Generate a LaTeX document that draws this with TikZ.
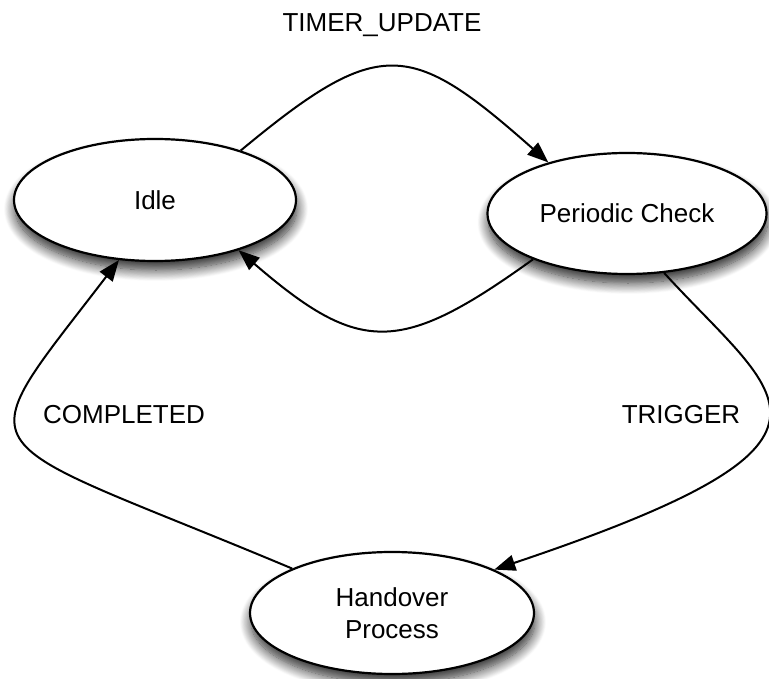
\documentclass[tikz,border=0pt]{standalone}
\usepackage{fontspec}
\setmainfont{Liberation Sans}
\usetikzlibrary{shapes.geometric,shadows.blur,arrows.meta}

\begin{document}
\begin{tikzpicture}[x=1pt,y=-1pt,
  state/.style={ellipse, draw, line width=2.2pt, fill=white, inner sep=0pt,
    font=\fontsize{26}{32}\selectfont, align=center,
    blur shadow={shadow xshift=1pt, shadow yshift=-9pt,
      shadow blur radius=11pt, shadow blur steps=14, shadow opacity=85}},
  trans/.style={line width=2pt, -{Triangle[length=21pt,width=16pt]}},
  lbl/.style={font=\fontsize{26}{32}\selectfont, inner sep=0pt, anchor=base}]
\useasboundingbox (0,0) rectangle (769,679);

% states
\node[state, minimum width=282pt, minimum height=122pt] (idle) at (155,200) {Idle};
\node[state, minimum width=279pt, minimum height=121pt] (check) at (627,213.5) {Periodic Check};
\node[state, minimum width=284pt, minimum height=122pt] (hand) at (392,613) {Handover\\Process};

% transitions
\draw[trans] (idle.30) .. controls (380,35) and (410,40) .. (check.147);
\draw[trans] (check.206) .. controls (400,355) and (360,355) .. (idle.329);
\draw[trans] (check.-58) .. controls (780,400) and (880,440) .. (hand.23);
\draw[trans] (hand.156) .. controls (-38,430) and (-38,465) .. (idle.239);

% transition labels
\node[lbl] (tu) at (382,32) {TIMER\_UPDATE};
\node[lbl] (co) at (124,423) {COMPLETED};
\node[lbl] (tr) at (681,423) {TRIGGER};
\end{tikzpicture}
\end{document}
